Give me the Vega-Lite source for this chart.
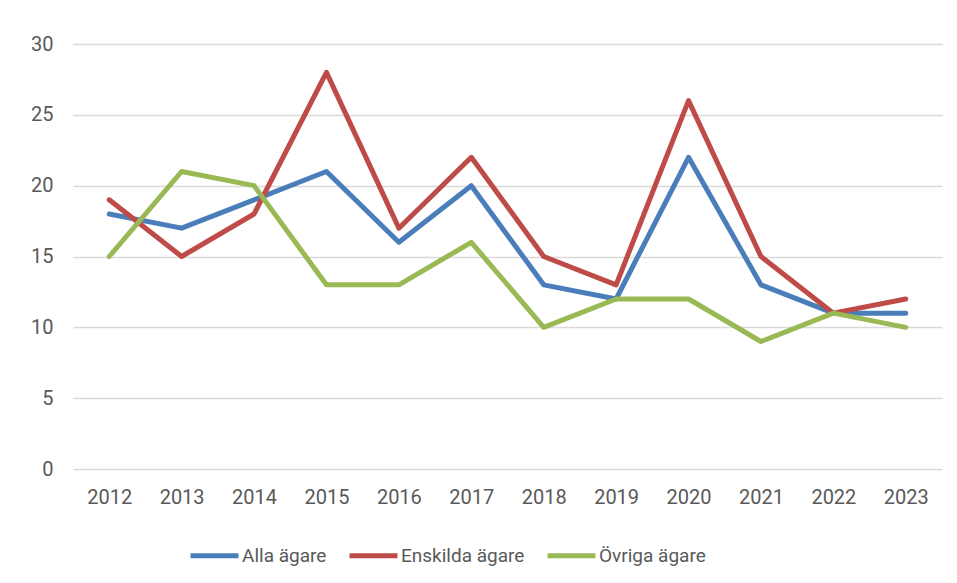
{
  "$schema": "https://vega.github.io/schema/vega-lite/v6.json",
  "width": 869,
  "height": 425,
  "autosize": {"type": "none"},
  "padding": {"left": 73, "top": 44, "right": 15, "bottom": 114},
  "background": "white",
  "data": {"values": [
    {"year": "2012", "serie": "Alla ägare", "v": 18},
    {"year": "2013", "serie": "Alla ägare", "v": 17},
    {"year": "2014", "serie": "Alla ägare", "v": 19},
    {"year": "2015", "serie": "Alla ägare", "v": 21},
    {"year": "2016", "serie": "Alla ägare", "v": 16},
    {"year": "2017", "serie": "Alla ägare", "v": 20},
    {"year": "2018", "serie": "Alla ägare", "v": 13},
    {"year": "2019", "serie": "Alla ägare", "v": 12},
    {"year": "2020", "serie": "Alla ägare", "v": 22},
    {"year": "2021", "serie": "Alla ägare", "v": 13},
    {"year": "2022", "serie": "Alla ägare", "v": 11},
    {"year": "2023", "serie": "Alla ägare", "v": 11},
    {"year": "2012", "serie": "Enskilda ägare", "v": 19},
    {"year": "2013", "serie": "Enskilda ägare", "v": 15},
    {"year": "2014", "serie": "Enskilda ägare", "v": 18},
    {"year": "2015", "serie": "Enskilda ägare", "v": 28},
    {"year": "2016", "serie": "Enskilda ägare", "v": 17},
    {"year": "2017", "serie": "Enskilda ägare", "v": 22},
    {"year": "2018", "serie": "Enskilda ägare", "v": 15},
    {"year": "2019", "serie": "Enskilda ägare", "v": 13},
    {"year": "2020", "serie": "Enskilda ägare", "v": 26},
    {"year": "2021", "serie": "Enskilda ägare", "v": 15},
    {"year": "2022", "serie": "Enskilda ägare", "v": 11},
    {"year": "2023", "serie": "Enskilda ägare", "v": 12},
    {"year": "2012", "serie": "Övriga ägare", "v": 15},
    {"year": "2013", "serie": "Övriga ägare", "v": 21},
    {"year": "2014", "serie": "Övriga ägare", "v": 20},
    {"year": "2015", "serie": "Övriga ägare", "v": 13},
    {"year": "2016", "serie": "Övriga ägare", "v": 13},
    {"year": "2017", "serie": "Övriga ägare", "v": 16},
    {"year": "2018", "serie": "Övriga ägare", "v": 10},
    {"year": "2019", "serie": "Övriga ägare", "v": 12},
    {"year": "2020", "serie": "Övriga ägare", "v": 12},
    {"year": "2021", "serie": "Övriga ägare", "v": 9},
    {"year": "2022", "serie": "Övriga ägare", "v": 11},
    {"year": "2023", "serie": "Övriga ägare", "v": 10}
  ]},
  "mark": {"type": "line", "strokeWidth": 5, "strokeCap": "round", "strokeJoin": "round"},
  "encoding": {
    "x": {
      "field": "year", "type": "ordinal",
      "scale": {"type": "point", "padding": 0.5},
      "axis": {"title": null, "labelAngle": 0, "domain": false, "ticks": false, "grid": false,
               "labelFont": "Roboto", "labelFontSize": 20, "labelColor": "#595959", "labelPadding": 18}
    },
    "y": {
      "field": "v", "type": "quantitative",
      "scale": {"domain": [0, 30], "nice": false},
      "axis": {"title": null, "values": [0, 5, 10, 15, 20, 25, 30], "domain": false, "ticks": false,
               "gridColor": "#d9d9d9", "gridWidth": 1.5,
               "labelFont": "Roboto", "labelFontSize": 20, "labelColor": "#595959", "labelPadding": 20}
    },
    "color": {
      "field": "serie", "type": "nominal",
      "scale": {"domain": ["Alla ägare", "Enskilda ägare", "Övriga ägare"], "range": ["#4a7ebb", "#be4b48", "#98b954"]},
      "legend": {
        "title": null, "orient": "none", "direction": "horizontal", "legendX": 115, "legendY": 485,
        "symbolType": "stroke", "symbolSize": 2300, "symbolStrokeWidth": 5,
        "labelFont": "Roboto", "labelFontSize": 19, "labelColor": "#595959", "labelOffset": 1,
        "columnPadding": 12
      }
    }
  },
  "config": {"view": {"stroke": null}}
}
